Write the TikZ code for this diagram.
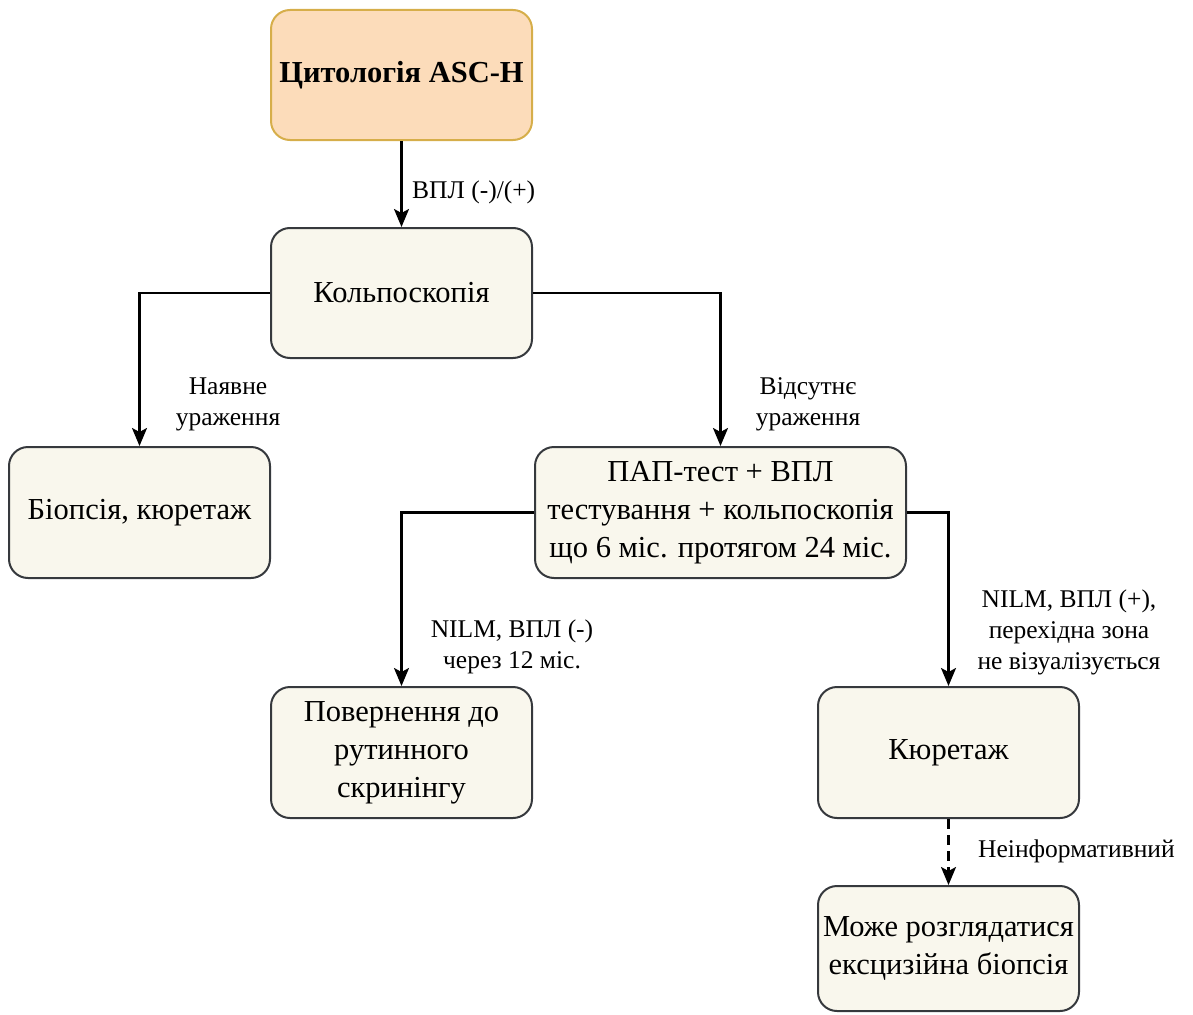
\documentclass[tikz,border=0pt]{standalone}
\usepackage{fontspec}
\setmainfont{Liberation Serif}
\usetikzlibrary{arrows.meta}
\definecolor{boxfill}{HTML}{F9F7ED}
\definecolor{boxline}{HTML}{36393D}
\definecolor{topfill}{HTML}{FCDCBA}
\definecolor{topline}{HTML}{D6AE4A}
\begin{document}
\begin{tikzpicture}[x=1pt,y=-1pt,
  box/.style={draw=boxline, fill=boxfill, line width=2pt, rounded corners=19pt,
    align=center, font=\fontsize{30.5}{38}\selectfont, inner sep=0pt},
  lab/.style={align=center, font=\fontsize{25.5}{31}\selectfont, inner sep=0pt},
  arr/.style={line width=2.3pt, -{Stealth[length=18pt,width=15pt,inset=4pt]}}]
\useasboundingbox (0,0) rectangle (1193,1014);

\node[box, draw=topline, fill=topfill, minimum width=261pt, minimum height=130pt,
  font=\fontsize{30.5}{38}\selectfont\bfseries] (cyt) at (401.5,75) {Цитологія ASC-H};
\node[box, minimum width=261pt, minimum height=130pt] (kol) at (401.5,293) {Кольпоскопія};
\node[box, minimum width=261pt, minimum height=131pt] (bio) at (139.5,512.5) {Біопсія, кюретаж};
\node[box, minimum width=371pt, minimum height=131pt] (pap) at (720.5,512.5)
  {ПАП-тест + ВПЛ\\тестування + кольпоскопія\\що 6 міс. протягом 24 міс.};
\node[box, minimum width=261pt, minimum height=131pt] (pov) at (401.5,752.5)
  {Повернення до\\рутинного\\скринінгу};
\node[box, minimum width=261pt, minimum height=131pt] (kur) at (948.5,752.5) {Кюретаж};
\node[box, minimum width=261pt, minimum height=125pt] (mozh) at (948.5,948.5)
  {Може розглядатися\\ексцизійна біопсія};

\draw[arr] (cyt) -- (kol);
\draw[arr] (kol.west) -| (bio.north);
\draw[arr] (kol.east) -| (pap.north);
\draw[arr] (pap.west) -| (pov.north);
\draw[arr] (pap.east) -| (kur.north);
\draw[arr, dash pattern=on 10pt off 6pt] (kur) -- (mozh);

\node[lab, anchor=west] (l1) at (412,192) {ВПЛ (-)/(+)};
\node[lab] (l2) at (228,404) {Наявне\\ураження};
\node[lab] (l3) at (808,404) {Відсутнє\\ураження};
\node[lab] (l4) at (512,647) {NILM, ВПЛ (-)\\через 12 міс.};
\node[lab] (l5) at (1069,632) {NILM, ВПЛ (+),\\перехідна зона\\не візуалізується};
\node[lab, anchor=west] (l6) at (978,851) {Неінформативний};
\end{tikzpicture}
\end{document}
